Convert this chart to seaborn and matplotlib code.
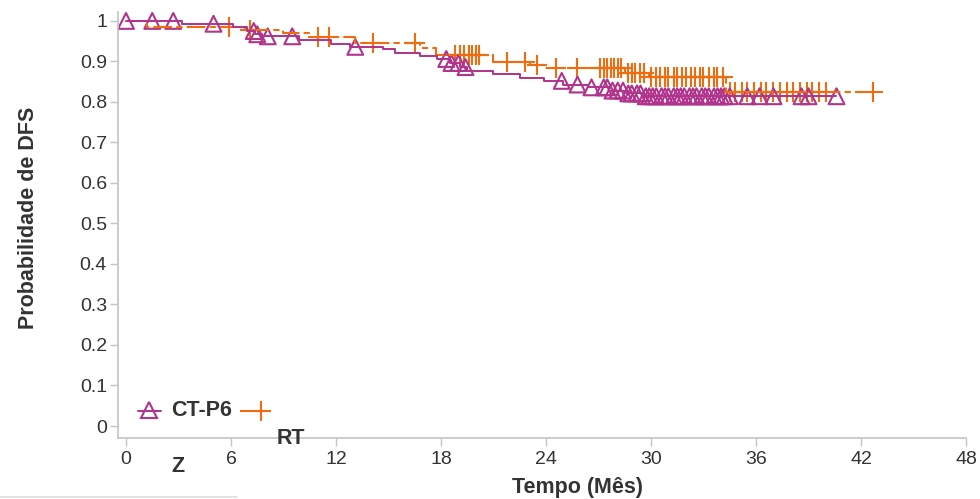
import numpy as np
import pandas as pd
import matplotlib
matplotlib.use('Agg')
import matplotlib.pyplot as plt
import seaborn as sns
from matplotlib.lines import Line2D
from matplotlib.transforms import Bbox, TransformedBbox

# Kaplan-Meier steps (time in months, probability)

ctp6_time = [0, 3.2, 6.1, 6.9, 7.4, 7.8, 9.9, 11.7, 12.8, 14.7, 15.4, 16.8, 17.8, 18.5,
             19.1, 19.5, 21.0, 22.5, 23.9, 25.0, 26.4, 27.6, 28.6, 29.5, 40.6]
ctp6_prob = [1.0, 0.993, 0.986, 0.975, 0.967, 0.962, 0.953, 0.944, 0.936, 0.931, 0.921,
             0.914, 0.906, 0.896, 0.886, 0.876, 0.869, 0.860, 0.852, 0.843, 0.836, 0.828,
             0.821, 0.814, 0.814]
ctp6_censor = [0, 1.5, 2.7, 5.0, 7.3, 7.5, 8.1, 9.5, 13.1, 18.3, 18.6, 19.0, 19.4,
               24.9, 25.8, 26.6, 27.3, 27.5, 27.8, 28.1, 28.4, 28.7, 28.9, 29.2, 29.4,
               29.7, 29.9, 30.1, 30.3, 30.6, 30.8, 31.0, 31.3, 31.5, 31.7, 31.9, 32.2,
               32.4, 32.6, 32.9, 33.1, 33.3, 33.6, 33.8, 34.0, 34.2, 34.5, 35.5, 36.2,
               37.0, 38.6, 39.0, 40.6]

rt_time = [0, 1.2, 6.8, 9.0, 10.5, 13.1, 16.8, 17.7, 21.0, 23.1, 23.9, 28.5, 29.9,
           34.3, 42.8]
rt_prob = [1.0, 0.985, 0.978, 0.970, 0.960, 0.946, 0.933, 0.916, 0.899, 0.891, 0.884,
           0.872, 0.862, 0.824, 0.824]
rt_censor = [5.9, 7.1, 11.0, 11.6, 14.1, 16.5, 18.8, 19.1, 19.3, 19.6, 19.8, 20.0,
             20.2, 21.8, 22.8, 23.5, 24.6, 25.8, 27.1, 27.3, 27.5, 27.7, 27.9, 28.1,
             28.3, 28.7, 28.9, 29.1, 29.4, 29.6, 30.0, 30.3, 30.5, 30.8, 31.0, 31.3,
             31.5, 31.8, 32.0, 32.3, 32.5, 32.8, 33.0, 33.3, 33.6, 33.8, 34.1, 34.5,
             34.8, 35.2, 35.5, 35.9, 36.3, 36.6, 37.0, 37.4, 37.8, 38.1, 38.5, 38.9,
             39.2, 39.6, 40.0, 42.7]

purple = '#b0338c'
orange = '#ef6c0f'
grey = '#c4c4c4'
txt = '#333333'


def step_value(times, probs, at):
    idx = np.searchsorted(times, at, side='right') - 1
    return np.asarray(probs)[idx]


sns.set_style('white')
plt.rcParams['font.family'] = ['Liberation Sans', 'DejaVu Sans']

fig = plt.figure(figsize=(9.8, 4.99), dpi=100)
ax = fig.add_axes([118/980, 61/499, 848/980, 426/499])

ctp6 = pd.DataFrame({'t': ctp6_time, 'p': ctp6_prob})
rt = pd.DataFrame({'t': rt_time, 'p': rt_prob})

n0 = len(ax.lines)
sns.lineplot(data=rt, x='t', y='p', estimator=None, drawstyle='steps-post',
             color=orange, linewidth=1.5, ax=ax)
rt_lines = ax.lines[n0:]
sns.lineplot(data=ctp6, x='t', y='p', estimator=None, drawstyle='steps-post',
             color=purple, linewidth=1.4, ax=ax)
for ln in rt_lines:
    ln.set_linestyle((0, (9, 2, 3, 2)))

sns.scatterplot(x=rt_censor, y=step_value(rt_time, rt_prob, rt_censor), marker='+',
                s=190, color=orange, linewidth=1.5, ax=ax, clip_on=False)
sns.scatterplot(x=ctp6_censor, y=step_value(ctp6_time, ctp6_prob, ctp6_censor),
                marker='^', s=130, color=purple, facecolor='none', edgecolor=purple,
                linewidth=1.5, ax=ax, clip_on=False)

ax.set_xlim(-0.457, 48)
ax.set_ylim(-0.0296, 1.022)
ax.set_xticks(range(0, 49, 6))
ax.set_yticks(np.arange(0, 1.01, 0.1))
ax.set_yticklabels(['0', '0.1', '0.2', '0.3', '0.4', '0.5', '0.6', '0.7', '0.8', '0.9', '1'])
ax.set_xlabel('')
ax.set_ylabel('')
for s in ['top', 'right']:
    ax.spines[s].set_visible(False)
for s in ['left', 'bottom']:
    ax.spines[s].set_color(grey)
    ax.spines[s].set_linewidth(1.2)
ax.tick_params(axis='both', length=6, width=1, color=grey, labelcolor=txt, labelsize=14,
               direction='out', left=True, bottom=True)
ax.tick_params(axis='x', pad=3)
ax.tick_params(axis='y', pad=2)

fig.text(578/980, 1 - 487/499, 'Tempo (Mês)', ha='center', va='center',
         fontsize=15.5, fontweight='bold', color=txt)
fig.text(28/980, 1 - 218/499, 'Probabilidade de DFS', ha='center', va='center',
         rotation=90, fontsize=15.5, fontweight='bold', color=txt)

# legend drawn by hand, it overlaps like the original
fig.add_artist(Line2D([138/980, 161/980], [1 - 411/499] * 2, color=purple, linewidth=1.4))
fig.add_artist(Line2D([149/980], [1 - 410/499], marker='^', markersize=11, color=purple,
                      markerfacecolor='none', markeredgewidth=1.5))
fig.text(171/980, 1 - 411/499, 'CT-P6', ha='left', va='center', fontsize=15.5,
         fontweight='bold', color=txt)
fig.add_artist(Line2D([240/980, 271/980], [1 - 411/499] * 2, color=orange, linewidth=1.5,
                      dashes=(6, 2)))
fig.add_artist(Line2D([261/980], [1 - 411/499], marker='+', markersize=14, color=orange,
                      markeredgewidth=1.5))
rt_label = fig.text(277/980, 1 - 439/499, 'RT', ha='left', va='center', fontsize=15.5,
                    fontweight='bold', color=txt)
rt_label.set_clip_box(TransformedBbox(Bbox([[0, 54/499], [1, 1]]), fig.transFigure))
rt_label.set_clip_on(True)
fig.text(171/980, 1 - 466/499, 'Z', ha='left', va='center', fontsize=15.5,
         fontweight='bold', color=txt)
fig.add_artist(Line2D([0, 237/980], [2/499, 2/499], color='#dddddd', linewidth=1.2))

plt.savefig('out.png', dpi=100)
